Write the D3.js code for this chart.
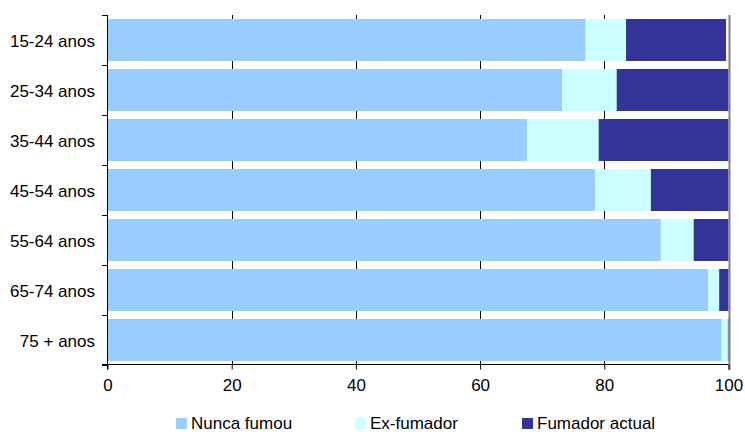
<!DOCTYPE html>
<html>
<head>
<meta charset="utf-8">
<script src="https://cdn.jsdelivr.net/npm/d3@7"></script>
<style>
  html, body { margin: 0; padding: 0; background: #fff; }
  svg { display: block; font-family: "Liberation Sans", Arial, sans-serif; }
</style>
</head>
<body>
<svg id="chart" width="745" height="432"></svg>
<script>
const categories = ["15-24 anos", "25-34 anos", "35-44 anos", "45-54 anos", "55-64 anos", "65-74 anos", "75 + anos"];
const seriesNames = ["Nunca fumou", "Ex-fumador", "Fumador actual"];
const nuncaFumou    = [77.0, 73.2, 67.6, 78.5, 89.1, 96.7, 98.9];
const exFumador     = [6.5, 8.8, 11.5, 9.0, 5.3, 1.8, 1.0];
const fumadorActual = [16.1, 18.0, 20.9, 12.5, 5.6, 1.5, 0.1];
const xTicks = [0, 20, 40, 60, 80, 100];
const colors = ["#99CCFF", "#CCFFFF", "#333399"];

const rows = categories.map((c, i) => ({
  cat: c,
  "Nunca fumou": nuncaFumou[i],
  "Ex-fumador": exFumador[i],
  "Fumador actual": fumadorActual[i]
}));

const svg = d3.select("#chart");
const x = d3.scaleLinear().domain([0, 100]).range([107.5, 728.5]);
const y = d3.scaleBand().domain(categories).range([15, 365]).paddingInner(0.16).paddingOuter(0.08);
const color = d3.scaleOrdinal().domain(seriesNames).range(colors);

// gridlines
svg.append("g").selectAll("line")
  .data(xTicks.filter(t => t > 0 && t < 100))
  .join("line")
  .attr("x1", d => Math.round(x(d)) + 0.5).attr("x2", d => Math.round(x(d)) + 0.5)
  .attr("y1", 15).attr("y2", 364.5)
  .attr("stroke", "#000").attr("stroke-width", 1);

// bars
const stack = d3.stack().keys(seriesNames)(rows);
svg.append("g").selectAll("g")
  .data(stack)
  .join("g")
  .attr("fill", d => color(d.key))
  .selectAll("rect")
  .data(d => d)
  .join("rect")
  .attr("x", d => x(d[0]))
  .attr("width", d => Math.max(0, x(d[1]) - x(d[0])))
  .attr("y", d => y(d.data.cat))
  .attr("height", y.bandwidth());

// right border line at 100
svg.append("line")
  .attr("x1", x(100) + 1).attr("x2", x(100) + 1)
  .attr("y1", 15).attr("y2", 370)
  .attr("stroke", "#808080").attr("stroke-width", 2);

// x axis
const xAxis = d3.axisBottom(x).tickValues(xTicks).tickSize(5).tickPadding(10).tickSizeOuter(0);
const gx = svg.append("g").attr("transform", "translate(0,364.5)").call(xAxis);
gx.select(".domain").attr("d", `M102,0H${x(100)}`).attr("stroke", "#000");
gx.selectAll(".tick line").attr("stroke", "#000");
gx.selectAll(".tick text").attr("font-size", 17).attr("fill", "#000")
  .attr("font-family", "'Liberation Sans', Arial, sans-serif").attr("dy", "0.71em").attr("y", 14);

// y axis
const yTickPos = d3.range(categories.length + 1).map(i => 15 + i * y.step());
const gy = svg.append("g");
gy.append("line").attr("x1", 107.5).attr("x2", 107.5).attr("y1", 15).attr("y2", 369.5).attr("stroke", "#000");
gy.selectAll("line.tk").data(yTickPos).join("line").attr("class", "tk")
  .attr("x1", 102).attr("x2", 107.5)
  .attr("y1", d => d + 0.5).attr("y2", d => d + 0.5)
  .attr("stroke", "#000");
gy.selectAll("text").data(categories).join("text")
  .attr("x", 95).attr("y", d => y(d) + y.bandwidth() / 2 + 6.5)
  .attr("text-anchor", "end").attr("font-size", 17).attr("fill", "#000")
  .text(d => d);

// legend
const legendX = [176, 355, 522];
const lg = svg.append("g").selectAll("g").data(seriesNames).join("g")
  .attr("transform", (d, i) => `translate(${legendX[i]},418)`);
lg.append("rect").attr("width", 11).attr("height", 11).attr("fill", d => color(d));
lg.append("text").attr("x", 15).attr("y", 11).attr("font-size", 17).attr("fill", "#000").text(d => d);
</script>
</body>
</html>
